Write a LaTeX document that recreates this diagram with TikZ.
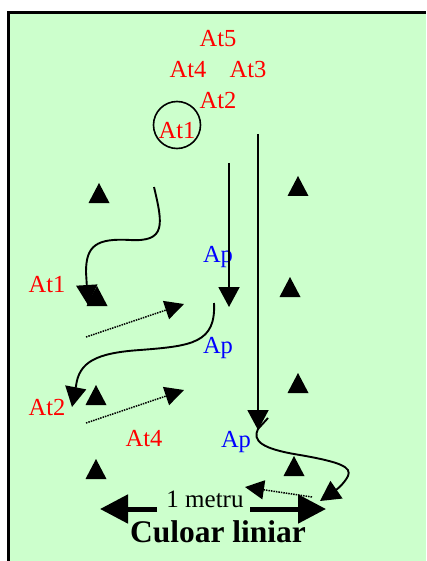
\documentclass[tikz,border=0pt]{standalone}
\usepackage{fontspec}
\setmainfont{Liberation Serif}
\usetikzlibrary{arrows.meta}
\definecolor{bg}{HTML}{CCFFCC}
\tikzset{
  lbl/.style={anchor=base,inner sep=0pt,font=\fontsize{24.5}{28}\selectfont},
  atl/.style={lbl,text=red},
  apl/.style={lbl,text=blue},
  path/.style={line width=1.9pt,-{Triangle[length=20pt,width=21pt]}},
  dotarrow/.style={line width=1.5pt,densely dotted,-{Triangle[length=19pt,width=19pt]}},
  bigarrow/.style={line width=5pt,-{Triangle[length=28pt,width=28pt]}},
  tri/.pic={\fill (-10.5,10) -- (10.5,10) -- (0,-10) -- cycle;}
}
\begin{document}
\begin{tikzpicture}[x=1pt,y=-1pt]
\useasboundingbox (0,0) rectangle (426,561);
\fill[bg] (8,12) rectangle (426,561);
\draw[line width=2.2pt] (8.5,561) -- (8.5,12.5) -- (426,12.5);

% start labels
\node[atl] (t5) at (218,47) {At5};
\node[atl] (t4) at (188,78) {At4};
\node[atl] (t3) at (248,78) {At3};
\node[atl] (t2) at (218,109) {At2};
\node[atl] (t1) at (177,139) {At1};
\node[draw,circle,line width=1.6pt,minimum size=47pt,inner sep=0pt] (ring) at (177,125) {};

% cones
\foreach \x/\y in {99/193,298/186,290/287,97/296,96/395,298/383,96/469,294/466}
  \pic at (\x,\y) {tri};

% side labels
\node[atl] (a1) at (47,292) {At1};
\node[atl] (a2) at (47,415) {At2};
\node[atl] (a4) at (144,446) {At4};
\node[apl] (p1) at (218,262) {Ap};
\node[apl] (p2) at (218,353) {Ap};
\node[apl] (p3) at (236,447) {Ap};

% paths
\coordinate (c1s) at (154,187);
\coordinate (c1e) at (88,305);
\draw[path] (c1s) .. controls (163,225) and (166,242) .. (130,240)
  .. controls (96,238) and (86,246) .. (86,272) -- (c1e);

\coordinate (c2s) at (214,303);
\coordinate (c2e) at (72,407);
\draw[path] (c2s) .. controls (216,343) and (192,346) .. (140,350)
  .. controls (96,353) and (79,362) .. (76,386) -- (c2e);

\coordinate (v1s) at (229,163);
\coordinate (v1e) at (229,307);
\draw[path] (v1s) -- (v1e);

\coordinate (v2s) at (258,134);
\coordinate (v2e) at (258,430);
\draw[path] (v2s) -- (v2e);

\coordinate (c3s) at (268,418);
\coordinate (c3e) at (320,501);
\draw[path] (c3s) -- (258,429) .. controls (252,441) and (262,449) .. (300,455)
  .. controls (340,462) and (352,467) .. (348,476) .. controls (344,484) and (336,490) .. (c3e);

% dotted passes
\coordinate (d1s) at (86,337);
\coordinate (d1e) at (184,304);
\draw[dotarrow] (d1s) -- (d1e);
\coordinate (d2s) at (86,423);
\coordinate (d2e) at (184,390);
\draw[dotarrow] (d2s) -- (d2e);
\coordinate (d3s) at (312,497);
\coordinate (d3e) at (245,487);
\draw[dotarrow] (d3s) -- (d3e);

% width indication
\node[lbl,font=\fontsize{25}{28}\selectfont] (m) at (205,507) {1 metru};
\coordinate (bl) at (100,509);
\coordinate (br) at (326,509);
\draw[bigarrow] (157,509) -- (bl);
\draw[bigarrow] (250,509) -- (br);
\node[lbl,font=\fontsize{31.5}{34}\selectfont\bfseries] (cl) at (218,542) {Culoar liniar};
\end{tikzpicture}
\end{document}
